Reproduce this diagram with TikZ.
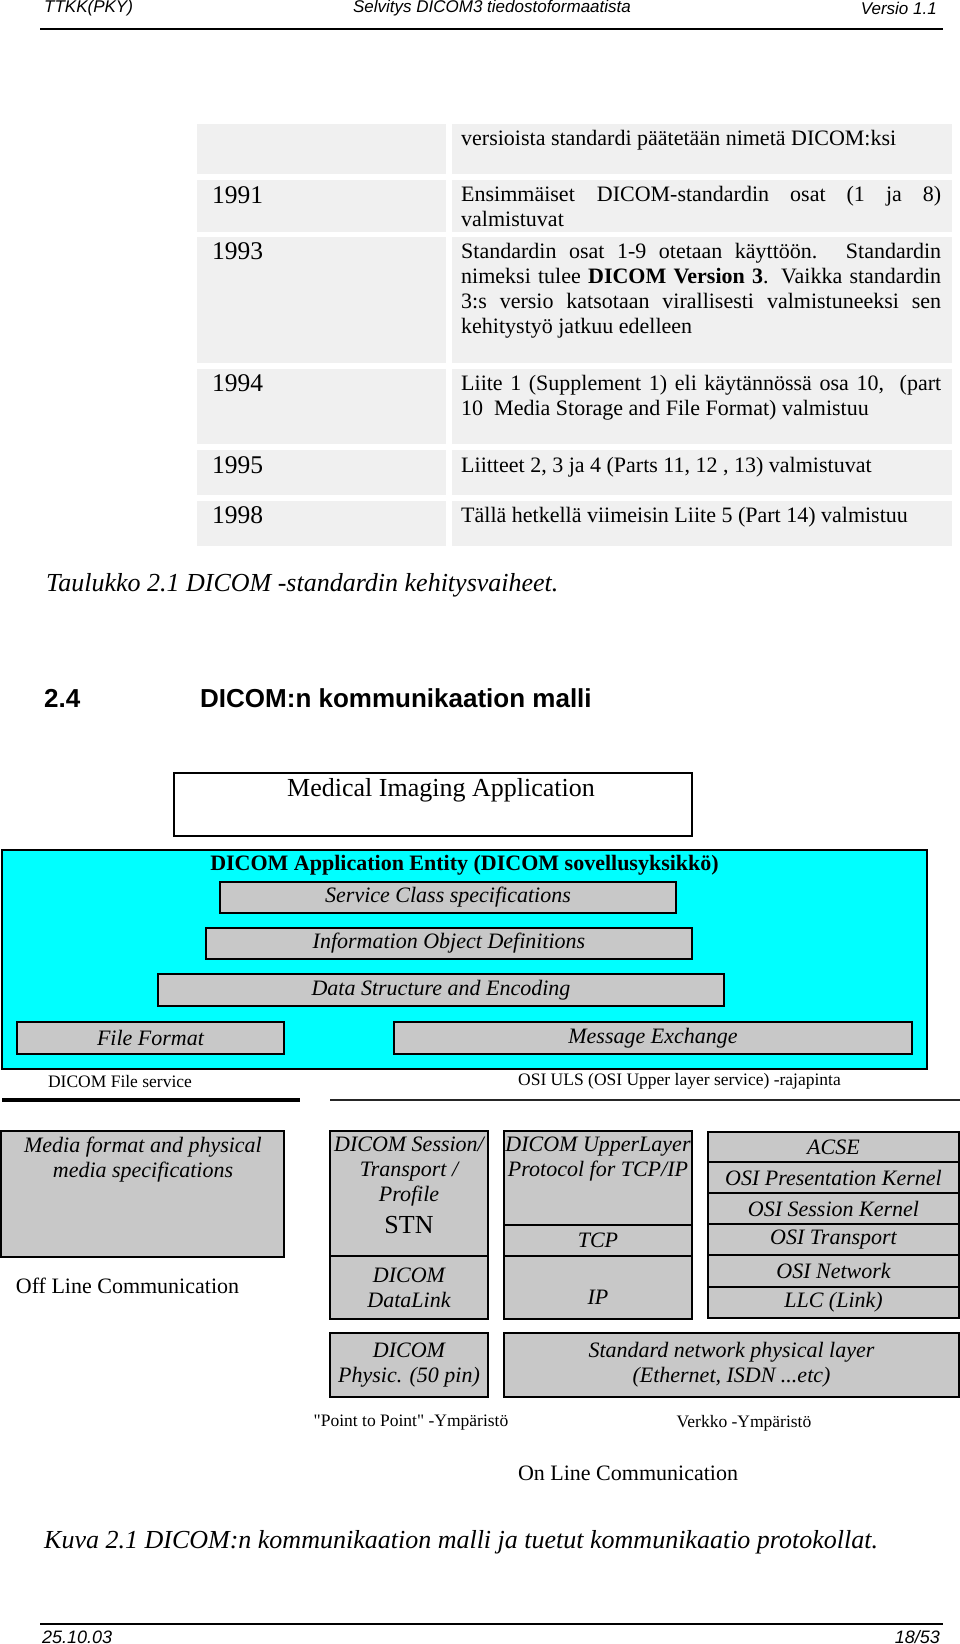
\documentclass[tikz,border=0pt]{standalone}
\usepackage{fontspec}
\setmainfont{Liberation Serif}[Ligatures=TeXOff]
\setsansfont{Liberation Sans}
\usepackage{tikz}
\definecolor{cellgray}{HTML}{F0F0F0}
\definecolor{layergray}{HTML}{C8C8C8}
\definecolor{aecyan}{HTML}{00FFFF}
\newcommand{\fsz}[1]{\fontsize{#1}{25}\selectfont}

\begin{document}
\begin{tikzpicture}[x=1pt, y=-1pt,
  cell/.style={fill=cellgray, inner sep=0pt},
  layer/.style={draw, line width=2pt, fill=layergray, inner sep=0pt, align=center, font=\fsz{22}\itshape},
  txt/.style={inner sep=0pt, align=center, font=\fsz{22}},
  ital/.style={inner sep=0pt, align=center, font=\fsz{22}\itshape},
  small/.style={inner sep=0pt, font=\fsz{17.5}},
  year/.style={inner sep=0pt, anchor=west, font=\fsz{25.5}},
  entry/.style={inner sep=0pt, anchor=north west, text width=480pt, align=justify, font=\fsz{22}},
  head/.style={inner sep=0pt, font=\sffamily\itshape\fsz{17}},
  caption/.style={inner sep=0pt, anchor=west, font=\fsz{26}\itshape},
  rule/.style={line width=2.5pt}
]
\useasboundingbox[fill=white] (0,0) rectangle (960,1644);

\node[head, anchor=west] (hleft) at (44,8) {TTKK(PKY)};
\node[head] (hmid) at (492,8) {Selvitys DICOM3 tiedostoformaatista};
\node[head, anchor=east] (hright) at (937,8) {Versio 1.1};
\draw[rule] (40,29) -- (943,29);

\node[cell, minimum width=249pt, minimum height=50pt] (l0) at (321.5,149) {};
\node[cell, minimum width=500pt, minimum height=50pt] (r0) at (702,149) {};
\node[cell, minimum width=249pt, minimum height=52pt] (l1) at (321.5,206) {};
\node[cell, minimum width=500pt, minimum height=52pt] (r1) at (702,206) {};
\node[cell, minimum width=249pt, minimum height=126pt] (l2) at (321.5,300) {};
\node[cell, minimum width=500pt, minimum height=126pt] (r2) at (702,300) {};
\node[cell, minimum width=249pt, minimum height=75pt] (l3) at (321.5,406.5) {};
\node[cell, minimum width=500pt, minimum height=75pt] (r3) at (702,406.5) {};
\node[cell, minimum width=249pt, minimum height=45pt] (l4) at (321.5,472.5) {};
\node[cell, minimum width=500pt, minimum height=45pt] (r4) at (702,472.5) {};
\node[cell, minimum width=249pt, minimum height=45pt] (l5) at (321.5,523.5) {};
\node[cell, minimum width=500pt, minimum height=45pt] (r5) at (702,523.5) {};

\node[entry] (t0) at (461,130) {versioista standardi päätetään nimetä DICOM:ksi};
\node[year] (y1) at (212,195) {1991};
\node[entry] (t1) at (461,186) {Ensimmäiset\quad DICOM-standardin osat (1 ja 8)\linebreak valmistuvat};
\node[year] (y2) at (212,251) {1993};
\node[entry] (t2) at (461,243) {Standardin osat 1-9 otetaan käyttöön. Standardin\linebreak nimeksi tulee \textbf{DICOM Version 3}. Vaikka standardin\linebreak 3:s versio katsotaan virallisesti valmistuneeksi sen\linebreak kehitystyö jatkuu edelleen};
\node[year] (y3) at (212,383) {1994};
\node[entry] (t3) at (461,375) {Liite 1 (Supplement 1) eli käytännössä osa 10, \ (part\linebreak 10 \ Media Storage and File Format) valmistuu};
\node[year] (y4) at (212,465) {1995};
\node[entry] (t4) at (461,457) {Liitteet 2, 3 ja 4 (Parts 11, 12 , 13) valmistuvat};
\node[year] (y5) at (212,515) {1998};
\node[entry] (t5) at (461,507) {Tällä hetkellä viimeisin Liite 5 (Part 14) valmistuu};

\node[caption] (tabcap) at (46,585) {Taulukko 2.1 DICOM -standardin kehitysvaiheet.};

\node[inner sep=0pt, anchor=west, font=\sffamily\bfseries\fsz{26}] (secnum) at (44,698) {2.4};
\node[inner sep=0pt, anchor=west, font=\sffamily\bfseries\fsz{26}] (sectitle) at (200,698) {DICOM:n kommunikaation malli};

\node[draw, line width=2pt, fill=white, minimum width=518pt, minimum height=63pt] (app) at (433,804.5) {};
\node[txt, font=\fsz{26}] (apptxt) at (441,790) {Medical Imaging Application};

\node[draw, line width=2pt, fill=aecyan, minimum width=925pt, minimum height=219pt] (ae) at (464.5,959.5) {};
\node[txt, font=\fsz{22}\bfseries] (aetxt) at (464.5,865) {DICOM Application Entity (DICOM sovellusyksikkö)};
\node[layer, minimum width=456pt, minimum height=31pt] (svc) at (448,897.5) {Service Class specifications};
\node[layer, minimum width=486pt, minimum height=31pt] (iod) at (449,943.5) {Information Object Definitions};
\node[layer, minimum width=566pt, minimum height=32pt] (dse) at (441,990) {Data Structure and Encoding};
\node[layer, minimum width=267pt, minimum height=32pt] (ff) at (150.5,1038) {File Format};
\node[layer, minimum width=518pt, minimum height=32pt] (mx) at (653,1038) {Message Exchange};

\node[small] (fsvc) at (120,1081) {DICOM File service};
\node[small] (uls) at (679.5,1081) {OSI ULS (OSI Upper layer service) -rajapinta};
\draw[line width=4.5pt] (2,1100) -- (300,1100);
\draw[line width=1.5pt, black!85] (330,1100) -- (960,1100);

\node[layer, minimum width=283pt, minimum height=126pt] (media) at (142.5,1194) {};
\node[ital] (mediatxt) at (143,1159.5) {Media format and physical\\media specifications};
\node[txt] (offline) at (127.5,1286) {Off Line Communication};

\node[layer, minimum width=158pt, minimum height=125pt] (sess) at (409,1193.5) {};
\node[ital] (sesstxt) at (409,1172) {DICOM Session/\\Transport /\\Profile};
\node[txt, font=\fsz{26}] (stn) at (409,1225) {STN};
\node[layer, minimum width=158pt, minimum height=63pt] (dlink) at (409,1287.5) {DICOM\\DataLink};

\node[layer, minimum width=188pt, minimum height=94pt] (ulp) at (598,1178) {};
\node[ital] (ulptxt) at (598,1159.5) {DICOM UpperLayer\\Protocol for TCP/IP};
\node[layer, minimum width=188pt, minimum height=31pt] (tcp) at (598,1240.5) {TCP};
\node[layer, minimum width=188pt, minimum height=63pt] (ip) at (598,1287.5) {};
\node[ital] (iptxt) at (598,1297) {IP};

\node[layer, minimum width=251pt, minimum height=30pt] (acse) at (833.5,1147) {ACSE};
\node[layer, minimum width=251pt, minimum height=31pt] (pres) at (833.5,1177.5) {OSI Presentation Kernel};
\node[layer, minimum width=251pt, minimum height=31pt] (osess) at (833.5,1208.5) {OSI Session Kernel};
\node[layer, minimum width=251pt, minimum height=31pt] (otrans) at (833.5,1239.5) {OSI Transport};
\node[layer, minimum width=251pt, minimum height=32pt] (onet) at (833.5,1271) {OSI Network};
\node[layer, minimum width=251pt, minimum height=31pt] (llc) at (833.5,1302.5) {LLC (Link)};

\node[layer, minimum width=158pt, minimum height=64pt] (phys) at (409,1365) {DICOM\\Physic. (50 pin)};
\node[layer, minimum width=455pt, minimum height=64pt] (stdnet) at (731.5,1365) {Standard network physical layer\\(Ethernet, ISDN ...etc)};

\node[small] (p2p) at (411,1423) {"Point to Point" -Ympäristö};
\node[small] (verkko) at (744,1423) {Verkko -Ympäristö};
\node[txt] (online) at (628,1473) {On Line Communication};

\node[caption] (figcap) at (44,1542) {Kuva 2.1 DICOM:n kommunikaation malli ja tuetut kommunikaatio protokollat.};

\draw[rule] (40,1624) -- (943,1624);
\node[head, anchor=west, font=\sffamily\itshape\fsz{18}] (fleft) at (42,1637) {25.10.03};
\node[head, anchor=east, font=\sffamily\itshape\fsz{18}] (fright) at (940,1637) {18/53};
\end{tikzpicture}
\end{document}
